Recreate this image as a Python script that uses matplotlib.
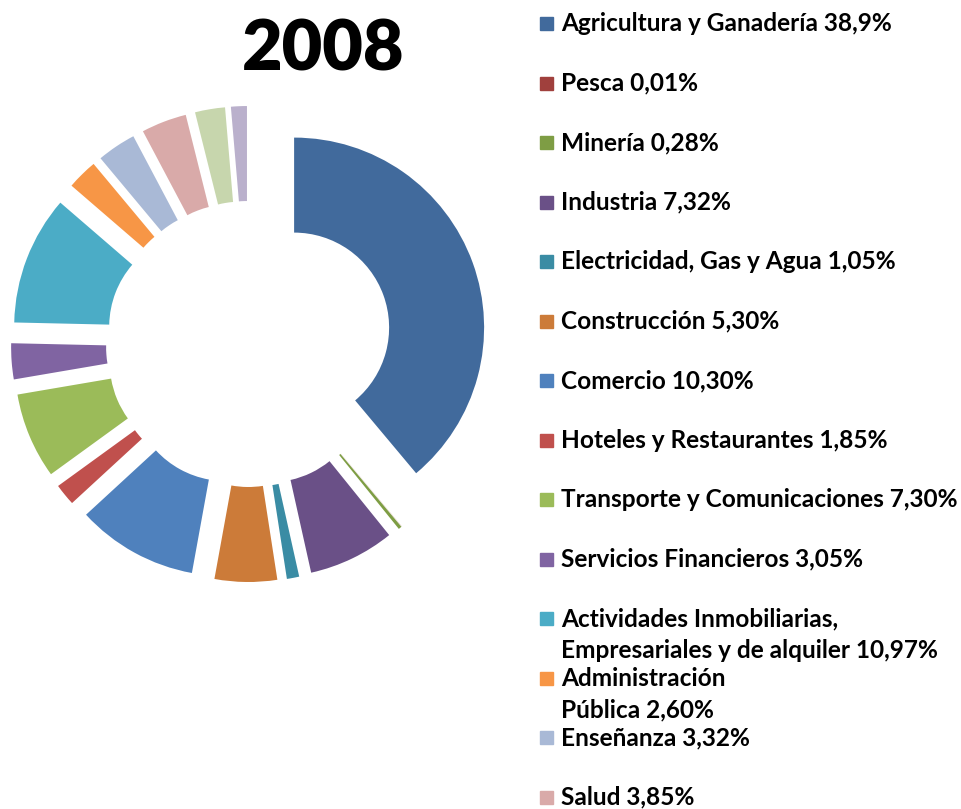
import matplotlib
matplotlib.use("Agg")

import matplotlib.pyplot as plt
from matplotlib.patches import Rectangle

# sector shares, 2008 (last two are cut off in the legend)
sectors = [
    "Agricultura y Ganadería", "Pesca", "Minería", "Industria",
    "Electricidad, Gas y Agua", "Construcción", "Comercio",
    "Hoteles y Restaurantes", "Transporte y Comunicaciones",
    "Servicios Financieros",
    "Actividades Inmobiliarias, Empresariales y de alquiler",
    "Administración Pública", "Enseñanza", "Salud",
    "Otros Servicios", "Servicio Doméstico",
]
shares = [38.9, 0.01, 0.28, 7.32, 1.05, 5.30, 10.30, 1.85, 7.30, 3.05,
          10.97, 2.60, 3.32, 3.85, 2.55, 1.35]
legend_labels = [
    "Agricultura y Ganadería 38,9%",
    "Pesca 0,01%",
    "Minería 0,28%",
    "Industria 7,32%",
    "Electricidad, Gas y Agua 1,05%",
    "Construcción 5,30%",
    "Comercio 10,30%",
    "Hoteles y Restaurantes 1,85%",
    "Transporte y Comunicaciones 7,30%",
    "Servicios Financieros 3,05%",
    "Actividades Inmobiliarias,\nEmpresariales y de alquiler 10,97%",
    "Administración\nPública 2,60%",
    "Enseñanza 3,32%",
    "Salud 3,85%",
]
colors = [
    "#416A9C", "#A0403D", "#7E9D44", "#6A5087", "#3A8CA4", "#CC7B39",
    "#4F81BD", "#C0504D", "#9BBB59", "#8064A2", "#4BACC6", "#F79646",
    "#A9B9D6", "#D9AAA9", "#C7D6AD", "#BAB0CC",
]

W, H = 961, 809
fig = plt.figure(figsize=(W / 100, H / 100), dpi=100)
ax = fig.add_axes([0, 0, 1, 1])

# donut, every slice pulled out
ax.pie(shares, colors=colors, startangle=90, counterclock=False,
       radius=190, center=(249, H - 344), explode=[48] * len(shares),
       wedgeprops=dict(width=95, linewidth=0))

ax.set_xlim(0, W)
ax.set_ylim(0, H)
ax.set_aspect("equal")
ax.axis("off")

ax.text(323, H - 70, "2008", ha="center", va="baseline",
        fontsize=50.5, fontweight="heavy", family="Lato")

# legend drawn by hand (Excel spacing, long labels spill over)
for i, lab in enumerate(legend_labels):
    base = 31 + 59.5 * i
    ax.add_patch(Rectangle((540, H - base + 1), 13, 13,
                           color=colors[i], clip_on=False))
    for k, line in enumerate(lab.split("\n")):
        ax.text(561, H - (base + 32 * k), line, ha="left", va="baseline",
                fontsize=17.6, fontweight="bold", family="Lato")

fig.savefig("out.png", dpi=100)
